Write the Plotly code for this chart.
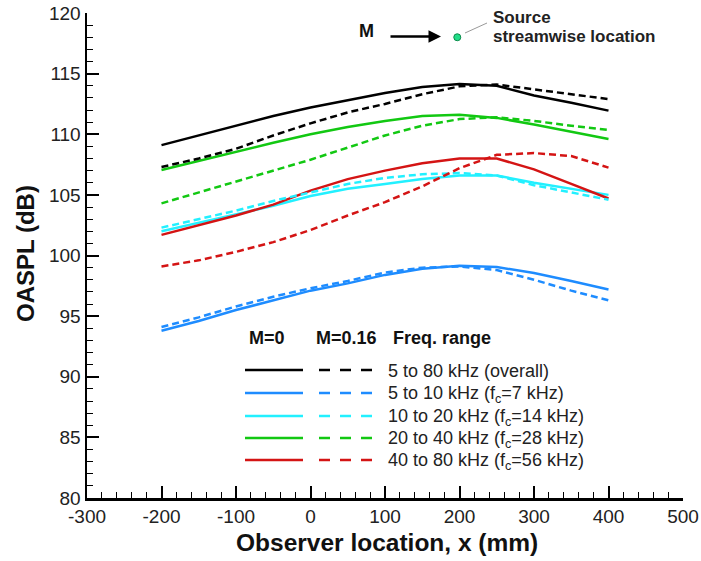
import plotly.graph_objects as go

# ---------------- data ----------------
x_mm = [-200, -150, -100, -50, 0, 50, 100, 150, 200, 250, 300, 350, 400]

overall_m0 = [109.1, 109.9, 110.7, 111.5, 112.2, 112.8, 113.4, 113.9, 114.15, 114.0, 113.2, 112.6, 111.95]
overall_m16 = [107.3, 108.0, 108.8, 109.9, 110.9, 111.8, 112.5, 113.3, 113.95, 114.1, 113.7, 113.3, 112.9]
band5_10_m0 = [93.8, 94.6, 95.5, 96.3, 97.1, 97.7, 98.4, 98.9, 99.15, 99.05, 98.55, 97.9, 97.2]
band5_10_m16 = [94.1, 94.9, 95.8, 96.6, 97.3, 97.9, 98.6, 99.0, 99.1, 98.8, 98.0, 97.1, 96.3]
band10_20_m0 = [102.0, 102.7, 103.4, 104.1, 104.9, 105.5, 105.9, 106.3, 106.6, 106.6, 106.0, 105.5, 105.0]
band10_20_m16 = [102.3, 103.0, 103.7, 104.5, 105.2, 105.9, 106.4, 106.7, 106.8, 106.6, 105.8, 105.2, 104.6]
band20_40_m0 = [107.05, 107.8, 108.6, 109.3, 110.0, 110.6, 111.1, 111.5, 111.6, 111.35, 110.8, 110.2, 109.6]
band20_40_m16 = [104.3, 105.2, 106.1, 107.0, 107.9, 108.9, 109.9, 110.7, 111.25, 111.4, 111.1, 110.7, 110.35]
band40_80_m0 = [101.7, 102.5, 103.3, 104.2, 105.35, 106.3, 107.0, 107.6, 108.0, 108.0, 107.1, 105.9, 104.7]
band40_80_m16 = [99.1, 99.6, 100.3, 101.1, 102.1, 103.3, 104.4, 105.7, 107.2, 108.3, 108.45, 108.2, 107.25]

band_labels = [
    "5 to 80 kHz (overall)",
    "5 to 10 kHz (f<sub>c</sub>=7 kHz)",
    "10 to 20 kHz (f<sub>c</sub>=14 kHz)",
    "20 to 40 kHz (f<sub>c</sub>=28 kHz)",
    "40 to 80 kHz (f<sub>c</sub>=56 kHz)",
]
band_colors = ["#000000", "#1E8CFF", "#22F0FF", "#12C812", "#D41414"]
m0_series = [overall_m0, band5_10_m0, band10_20_m0, band20_40_m0, band40_80_m0]
m16_series = [overall_m16, band5_10_m16, band10_20_m16, band20_40_m16, band40_80_m16]

x_ticks = [-300, -200, -100, 0, 100, 200, 300, 400, 500]
x_ticktext = ["-300", "-200", "-100", "0", "100", "200", "300", "400", "500"]
y_ticks = [80, 85, 90, 95, 100, 105, 110, 115, 120]
y_ticktext = ["80", "85", "90", "95", "100", "105", "110", "115", "120"]
source_x = 197
source_y = 118

# ---------------- layout geometry ----------------
W, H = 701, 561
PL, PT, PW, PH = 87, 13, 596, 485          # plot area in pixels
L, T = PL, PT
R, B = W - L - PW, H - T - PH


def px(X):
    return (X - PL) / PW


def py(Y):
    return (PT + PH - Y) / PH


FONT = "Liberation Sans, Arial, sans-serif"
DASH = "7px,4px"


def note(X, Y, text, size, xanchor="center", color="#111", angle=0):
    return dict(x=px(X), y=py(Y), xref="paper", yref="paper", text=text,
                showarrow=False, xanchor=xanchor, yanchor="middle",
                textangle=angle,
                font=dict(family=FONT, size=size, color=color))


fig = go.Figure()
for ys, c, lab in zip(m0_series, band_colors, band_labels):
    fig.add_trace(go.Scatter(x=x_mm, y=ys, mode="lines",
                             line=dict(color=c, width=2.5), name=lab,
                             showlegend=False))
for ys, c, lab in zip(m16_series, band_colors, band_labels):
    fig.add_trace(go.Scatter(x=x_mm, y=ys, mode="lines",
                             line=dict(color=c, width=2.5, dash=DASH),
                             name=lab + " M=0.16", showlegend=False))

# source marker
fig.add_trace(go.Scatter(x=[source_x], y=[source_y], mode="markers",
                         marker=dict(color="#22DD88", size=7,
                                     line=dict(color="#0A8A4A", width=1)),
                         showlegend=False, cliponaxis=False))

shapes = []
annotations = []

# custom legend
hdr_y = 338
annotations.append(note(267, hdr_y, "<b>M=0</b>", 18))
annotations.append(note(346, hdr_y, "<b>M=0.16</b>", 18))
annotations.append(note(442, hdr_y, "<b>Freq. range</b>", 18))
row_y = [370, 393, 416, 438, 460]
for Y, c, lab in zip(row_y, band_colors, band_labels):
    shapes.append(dict(type="line", xref="paper", yref="paper",
                       x0=px(245), x1=px(303), y0=py(Y), y1=py(Y),
                       line=dict(color=c, width=2.5)))
    for d0 in (319, 340, 361):
        shapes.append(dict(type="line", xref="paper", yref="paper",
                           x0=px(d0), x1=px(d0 + 11), y0=py(Y), y1=py(Y),
                           line=dict(color=c, width=2.5)))
    annotations.append(note(386, Y + 1, lab, 18, xanchor="left", color="#222"))

# top annotation: M arrow and source location
annotations.append(note(366, 31, "<b>M</b>", 18))
annotations.append(dict(x=px(441), y=py(36.5), ax=-52, ay=0,
                        xref="paper", yref="paper", axref="pixel", ayref="pixel",
                        text="", showarrow=True, arrowhead=2, arrowsize=1,
                        arrowwidth=2.5, arrowcolor="#000"))
shapes.append(dict(type="line", xref="paper", yref="paper",
                   x0=px(465), y0=py(33), x1=px(487), y1=py(23),
                   line=dict(color="#999", width=1)))
annotations.append(note(491, 18, "<b>Source</b>", 17, xanchor="left", color="#222"))
annotations.append(note(491, 36, "<b>streamwise location</b>", 17,
                        xanchor="left", color="#222"))

# axis titles
annotations.append(note(25, 254, "<b>OASPL (dB)</b>", 24, angle=-90))
annotations.append(note(387, 542, "<b>Observer location, x (mm)</b>", 24.5))

axis_common = dict(showline=True, linecolor="#000", linewidth=2.5,
                   ticks="inside", ticklen=12, tickwidth=2, tickcolor="#000",
                   showgrid=False, zeroline=False, mirror=False,
                   automargin=False, ticklabeloverflow="allow",
                   tickfont=dict(family=FONT, size=19, color="#222"))

fig.update_layout(
    width=W, height=H,
    margin=dict(l=L, r=R, t=T, b=B),
    plot_bgcolor="white", paper_bgcolor="white",
    hovermode=False,
    xaxis=dict(range=[-300, 500], tickvals=x_ticks, ticktext=x_ticktext,
               minor=dict(ticks="inside", ticklen=6, tickwidth=1,
                          tickcolor="#000", dtick=20, showgrid=False),
               **axis_common),
    yaxis=dict(range=[80, 120], tickvals=y_ticks, ticktext=y_ticktext,
               minor=dict(ticks="inside", ticklen=6, tickwidth=1,
                          tickcolor="#000", dtick=1, showgrid=False),
               **axis_common),
    shapes=shapes,
    annotations=annotations,
    showlegend=False,
)

# remove the default page margin so the figure fills the window exactly
fig.write_html(
    "out.html",
    config={"displayModeBar": False, "staticPlot": True},
    post_script="document.body.style.margin='0';"
                "document.body.style.overflow='hidden';",
)
